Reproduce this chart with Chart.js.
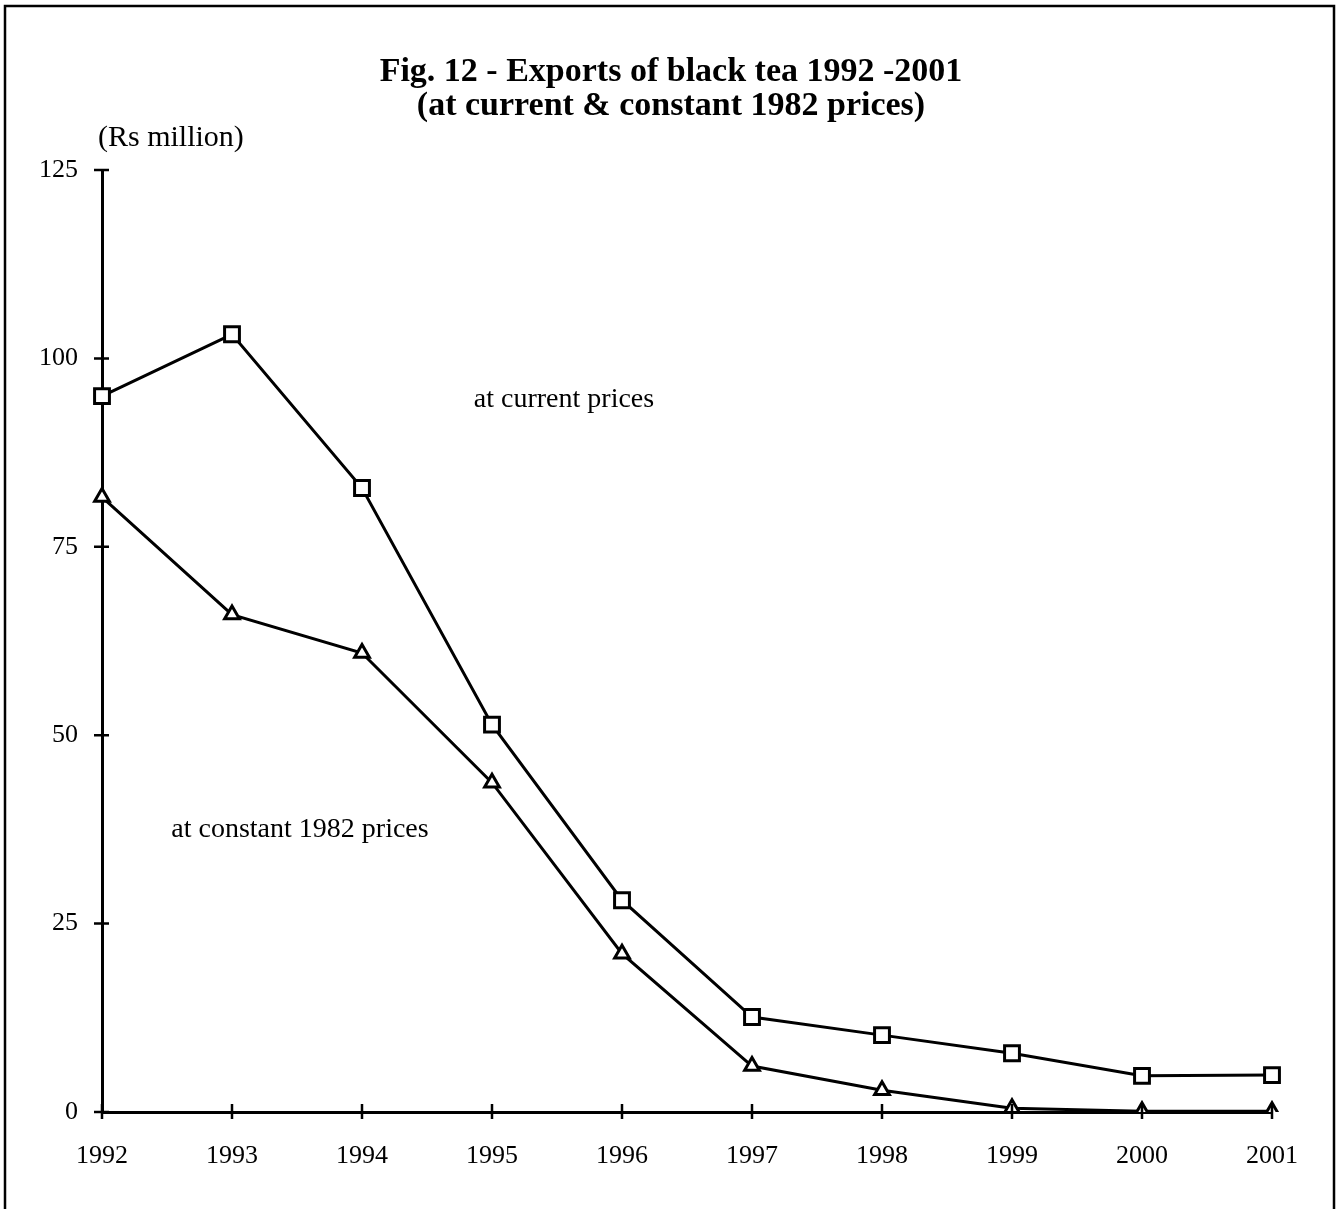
<!DOCTYPE html>
<html>
<head>
<meta charset="utf-8">
<script src="https://cdn.jsdelivr.net/npm/chart.js@4"></script>
<style>
  html, body { margin: 0; padding: 0; background: #fff; }
  #wrap { width: 1341px; height: 1209px; position: relative; }
</style>
</head>
<body>
<div id="wrap"><canvas id="chart"></canvas></div>
<script>
// dados
const anos = ['1992', '1993', '1994', '1995', '1996', '1997', '1998', '1999', '2000', '2001'];
const precosCorrentes = [95.0, 103.2, 82.8, 51.4, 28.1, 12.6, 10.2, 7.8, 4.8, 4.9];
const precosConstantes = [81.6, 66.0, 60.9, 43.7, 21.0, 6.1, 2.9, 0.5, 0.1, 0.1];
const ticksY = [0, 25, 50, 75, 100, 125];

const serif = '"Liberation Serif", "DejaVu Serif", serif';

// moldura, titulo, textos e marcas de escala cruzando os eixos
const extras = {
    id: 'extras',
    afterDraw(chart) {
        const ctx = chart.ctx;
        const x = chart.scales.x;
        const y = chart.scales.y;
        ctx.save();

        ctx.strokeStyle = '#000';
        ctx.lineWidth = 2.5;
        ctx.strokeRect(5, 6, 1329, 1220);

        ctx.fillStyle = '#000';
        ctx.textAlign = 'center';
        ctx.textBaseline = 'middle';
        ctx.font = 'bold 34px ' + serif;
        ctx.fillText('Fig. 12 - Exports of black tea 1992 -2001', 671, 72);
        ctx.fillText('(at current & constant 1982 prices)', 671, 106);

        ctx.font = '30px ' + serif;
        ctx.textAlign = 'left';
        ctx.fillText('(Rs million)', 98, 138);

        ctx.font = '28px ' + serif;
        ctx.textAlign = 'center';
        ctx.fillText('at current prices', 564, 400);
        ctx.fillText('at constant 1982 prices', 300, 830);

        ctx.lineWidth = 2.5;
        ctx.beginPath();
        ticksY.forEach(v => {
            const py = y.getPixelForValue(v);
            ctx.moveTo(x.left - 8, py);
            ctx.lineTo(x.left + 7, py);
        });
        anos.forEach((a, i) => {
            const px = x.getPixelForValue(i);
            ctx.moveTo(px, y.bottom - 8);
            ctx.lineTo(px, y.bottom + 7);
        });
        ctx.stroke();
        ctx.restore();
    }
};

new Chart(document.getElementById('chart'), {
    type: 'line',
    data: {
        labels: anos,
        datasets: [
            {
                label: 'at current prices',
                data: precosCorrentes,
                borderColor: '#000',
                borderWidth: 3,
                pointStyle: 'rect',
                pointRadius: 10.5,
                pointBorderWidth: 3,
                pointBackgroundColor: '#fff',
                pointBorderColor: '#000',
                tension: 0
            },
            {
                label: 'at constant 1982 prices',
                data: precosConstantes,
                borderColor: '#000',
                borderWidth: 3,
                pointStyle: 'triangle',
                pointRadius: 8.5,
                pointBorderWidth: 3,
                pointBackgroundColor: '#fff',
                pointBorderColor: '#000',
                tension: 0
            }
        ]
    },
    options: {
        responsive: true,
        maintainAspectRatio: false,
        animation: false,
        layout: { padding: { left: 0, right: 69, top: 170, bottom: 0 } },
        plugins: {
            legend: { display: false },
            tooltip: { enabled: false }
        },
        scales: {
            x: {
                offset: false,
                afterFit: s => { s.height = 97; },
                grid: { display: false },
                border: { display: true, color: '#000', width: 3 },
                ticks: {
                    color: '#000',
                    font: { family: serif, size: 26 },
                    padding: 21,
                    maxRotation: 0,
                    autoSkip: false
                }
            },
            y: {
                min: 0,
                max: 125,
                afterFit: s => { s.width = 102; },
                afterBuildTicks: s => { s.ticks = ticksY.map(v => ({ value: v })); },
                grid: { display: false },
                border: { display: true, color: '#000', width: 3 },
                ticks: {
                    color: '#000',
                    font: { family: serif, size: 26 },
                    padding: 16
                }
            }
        }
    },
    plugins: [extras]
});
</script>
</body>
</html>
